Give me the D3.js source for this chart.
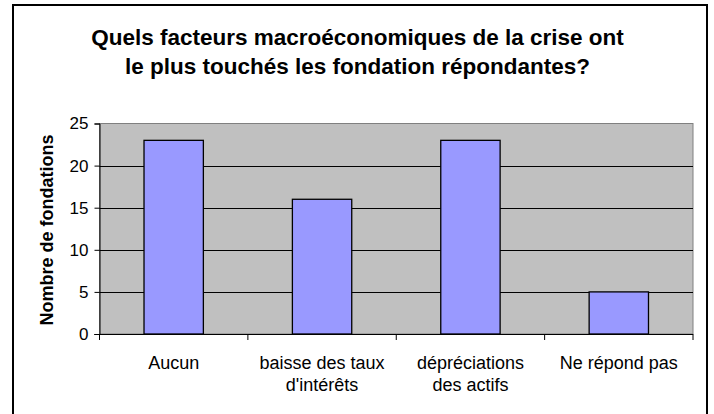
<!DOCTYPE html>
<html><head><meta charset="utf-8">
<script src="https://cdn.jsdelivr.net/npm/d3@7"></script>
<style>body{margin:0;background:#fff}svg{display:block}text{font-family:"Liberation Sans",Arial,sans-serif}</style>
</head><body>
<svg id="c" width="714" height="414"></svg>
<script>
const categories = [["Aucun"], ["baisse des taux", "d'intérêts"], ["dépréciations", "des actifs"], ["Ne répond pas"]];
const values = [23, 16, 23, 5];
const yTicks = [0, 5, 10, 15, 20, 25];
const titleLines = ["Quels facteurs macroéconomiques de la crise ont", "le plus touchés les fondation répondantes?"];
const yLabel = "Nombre de fondations";

const svg = d3.select("#c");
const L = 99.5, R = 693, T = 123.5, B = 334;

// outer frame
svg.append("rect").attr("x", 13).attr("y", 5).attr("width", 694).attr("height", 420)
  .attr("fill", "none").attr("stroke", "#000").attr("stroke-width", 2);

const x = d3.scaleBand().domain(d3.range(categories.length)).range([L, R]).paddingInner(0.6).paddingOuter(0.3);
const xb = d3.scaleBand().domain(d3.range(categories.length)).range([L, R]);
const y = d3.scaleLinear().domain([0, 25]).range([B, T]);

svg.append("rect").attr("x", L).attr("y", T).attr("width", R - L).attr("height", B - T)
  .attr("fill", "#C0C0C0").attr("stroke", "#808080").attr("stroke-width", 1);

// gridlines
svg.append("g").selectAll("line").data(yTicks.filter(d => d > 0 && d < 25)).join("line")
  .attr("x1", L).attr("x2", R).attr("y1", d => Math.round(y(d)) + 0.5).attr("y2", d => Math.round(y(d)) + 0.5)
  .attr("stroke", "#000").attr("stroke-width", 1);

// bars
svg.append("g").selectAll("rect").data(values).join("rect")
  .attr("x", (d, i) => x(i)).attr("width", x.bandwidth())
  .attr("y", d => y(d)).attr("height", d => B - y(d))
  .attr("fill", "#9999FF").attr("stroke", "#000").attr("stroke-width", 1.3);

// y axis
const ya = svg.append("g").attr("transform", `translate(${L},0)`)
  .call(d3.axisLeft(y).tickValues(yTicks).tickSize(5).tickPadding(6));
ya.attr("font-size", null).attr("font-family", null);
ya.select(".domain").attr("stroke", "#000");
ya.selectAll("text").attr("font-size", 17).attr("fill", "#000");

// x axis
const xa = svg.append("g").attr("transform", `translate(0,${B})`);
xa.append("line").attr("x1", L - 5).attr("x2", R).attr("y1", 0.5).attr("y2", 0.5).attr("stroke", "#000");
xa.selectAll("line.t").data(d3.range(categories.length + 1)).join("line").attr("class", "t")
  .attr("x1", d => L + d * xb.bandwidth()).attr("x2", d => L + d * xb.bandwidth())
  .attr("y1", 0).attr("y2", 6).attr("stroke", "#000");
xa.selectAll("text").data(categories).join("text")
  .attr("x", (d, i) => xb(i) + xb.bandwidth() / 2).attr("y", 35)
  .attr("text-anchor", "middle").attr("font-size", 18)
  .selectAll("tspan").data(d => d).join("tspan")
  .attr("x", function() { return this.parentNode.getAttribute("x"); })
  .attr("dy", (d, i) => i === 0 ? 0 : 22).text(d => d);

// title
svg.append("text").attr("x", 357.5).attr("y", 45).attr("text-anchor", "middle")
  .attr("font-size", 22.5).attr("font-weight", "bold")
  .selectAll("tspan").data(titleLines).join("tspan")
  .attr("x", 357.5).attr("dy", (d, i) => i === 0 ? 0 : 29).text(d => d);

// y label
svg.append("text").attr("transform", `translate(52.5,230) rotate(-90)`)
  .attr("text-anchor", "middle").attr("font-size", 18).attr("font-weight", "bold").text(yLabel);
</script>
</body></html>
